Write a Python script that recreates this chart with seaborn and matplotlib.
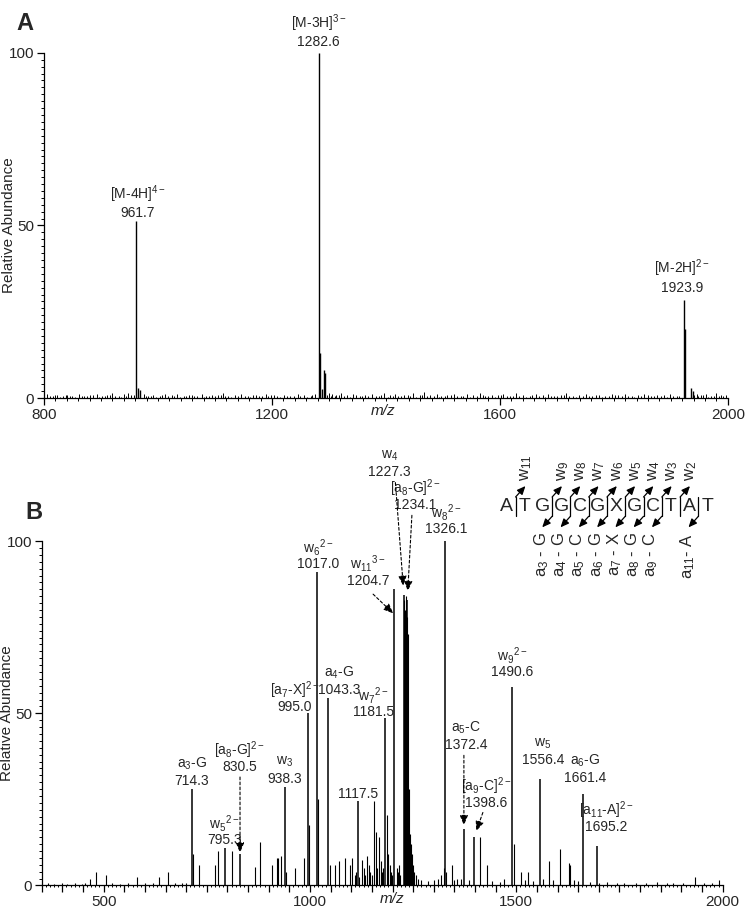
import matplotlib
matplotlib.use("Agg")
import matplotlib.pyplot as plt
from matplotlib.ticker import MultipleLocator, FixedLocator, FuncFormatter
import seaborn as sns

# ---------------- Panel A: full scan ----------------
a_peak_mz = [961.7, 965.0, 969.0, 1282.6, 1284.3, 1287.0, 1290.5, 1293.5, 1923.9, 1925.6, 1936.0, 1939.0]
a_peak_int = [51.4, 3.0, 2.4, 100.0, 13.0, 2.5, 8.2, 7.3, 28.5, 20.0, 3.0, 2.0]
# baseline noise (m/z, abundance)
a_noise = [(806, 1.2), (810, 0.5), (815, 0.6), (819, 0.8), (823, 0.9), (828, 0.4), (834, 0.5),
           (838, 0.9), (841, 1.0), (846, 0.6), (850, 0.7), (855, 0.3), (862, 1.3), (866, 0.7),
           (871, 0.6), (876, 0.5), (880, 0.8), (886, 0.9), (893, 1.1), (897, 0.4), (902, 0.5),
           (907, 0.6), (911, 0.9), (916, 0.8), (920, 1.4), (925, 0.5), (931, 0.7), (936, 0.3),
           (940, 1.1), (944, 0.7), (948, 1.6), (953, 0.8), (958, 0.9), (975, 1.2), (979, 0.5),
           (982, 0.7), (987, 0.6), (991, 0.9), (996, 0.4), (1004, 0.6), (1008, 0.8), (1012, 1.1),
           (1018, 0.5), (1025, 0.8), (1029, 0.7), (1033, 1.3), (1039, 0.3), (1046, 0.5), (1050, 0.6),
           (1055, 0.9), (1059, 0.9), (1063, 0.7), (1069, 0.5), (1077, 1.2), (1081, 0.4), (1085, 0.6),
           (1090, 0.7), (1094, 1.0), (1100, 0.6), (1106, 0.8), (1110, 0.8), (1114, 1.4), (1118, 0.5),
           (1123, 0.6), (1129, 0.3), (1135, 0.9), (1140, 0.7), (1146, 1.1), (1152, 0.6), (1158, 0.7),
           (1162, 0.4), (1166, 1.0), (1172, 0.9), (1177, 0.5), (1183, 0.5), (1189, 1.2), (1193, 0.6),
           (1198, 0.8), (1203, 0.8), (1209, 0.6), (1215, 0.4), (1221, 1.0), (1226, 0.7), (1232, 0.7),
           (1238, 0.5), (1245, 1.3), (1250, 0.6), (1256, 0.9), (1261, 0.3), (1268, 0.6), (1271, 0.8),
           (1275, 1.1), (1297, 1.0), (1300, 1.6), (1303, 0.7), (1306, 1.2), (1310, 0.5), (1313, 0.9),
           (1318, 0.9), (1322, 1.4), (1327, 0.6), (1331, 0.8), (1337, 0.4), (1342, 1.1), (1348, 0.8),
           (1354, 0.6), (1358, 0.5), (1363, 1.0), (1369, 0.7), (1376, 1.3), (1382, 0.6), (1388, 0.7),
           (1392, 0.9), (1397, 1.5), (1403, 0.4), (1408, 0.9), (1412, 0.7), (1416, 1.2), (1421, 0.5),
           (1427, 0.6), (1432, 0.8), (1438, 1.0), (1443, 0.6), (1447, 1.4), (1453, 0.3), (1459, 0.8),
           (1463, 0.9), (1466, 1.7), (1472, 0.5), (1478, 0.9), (1484, 0.7), (1489, 1.2), (1493, 0.4),
           (1497, 0.6), (1503, 0.6), (1508, 1.0), (1514, 0.8), (1519, 1.3), (1525, 0.5), (1531, 0.7),
           (1536, 0.7), (1542, 1.1), (1548, 0.3), (1553, 0.9), (1559, 0.6), (1565, 1.4), (1570, 0.9),
           (1574, 0.6), (1580, 0.5), (1586, 1.0), (1591, 0.4), (1597, 0.8), (1602, 0.8), (1606, 1.2),
           (1612, 0.6), (1618, 0.7), (1623, 0.7), (1629, 1.5), (1634, 0.5), (1640, 0.9), (1646, 0.3),
           (1652, 0.6), (1657, 0.8), (1663, 1.1), (1669, 0.6), (1675, 0.8), (1680, 0.4), (1684, 1.3),
           (1690, 0.7), (1695, 0.7), (1701, 0.5), (1707, 1.0), (1712, 0.9), (1716, 1.5), (1722, 0.6),
           (1728, 0.6), (1733, 0.4), (1739, 0.9), (1745, 0.7), (1751, 1.2), (1756, 0.5), (1762, 0.7),
           (1768, 0.8), (1774, 1.0), (1779, 0.3), (1785, 0.6), (1791, 0.6), (1797, 1.3), (1802, 0.9),
           (1808, 0.8), (1814, 0.5), (1819, 1.1), (1825, 0.7), (1831, 0.7), (1836, 0.4), (1842, 0.9),
           (1848, 0.6), (1853, 1.3), (1859, 0.8), (1865, 0.6), (1870, 0.5), (1876, 1.0), (1882, 0.7),
           (1888, 0.8), (1893, 0.3), (1899, 1.2), (1904, 0.6), (1910, 0.7), (1915, 0.5), (1941, 0.8),
           (1945, 1.3), (1948, 0.6), (1952, 0.8), (1957, 0.9), (1961, 1.1), (1966, 0.4), (1970, 0.7),
           (1975, 0.7), (1979, 1.4), (1984, 0.5), (1988, 0.9), (1992, 0.6), (1996, 1.0)]
a_label_names = ["[M-4H]$^{4-}$", "[M-3H]$^{3-}$", "[M-2H]$^{2-}$"]
a_label_nums = ["961.7", "1282.6", "1923.9"]
a_label_x = [965, 1282, 1920]
a_label_y = [53.6, 103.0, 31.9]

# ---------------- Panel B: MS/MS ----------------
b_peak_mz = [714.3, 795.3, 830.5, 938.3, 995.0, 1017.0, 1043.3, 1117.5, 1181.5, 1204.7,
             1227.3, 1234.1, 1326.1, 1372.4, 1398.6, 1490.6, 1556.4, 1661.4, 1695.2]
b_peak_int = [28.0, 11.0, 9.0, 28.5, 50.0, 91.0, 54.5, 24.5, 48.5, 86.0,
              84.5, 83.0, 100.0, 16.5, 14.0, 57.5, 31.0, 26.5, 11.5]
# unlabelled fragment and noise peaks (m/z, abundance)
b_minor = [(366, 0.6), (380, 0.5), (398, 0.7), (412, 0.5), (430, 0.6), (447, 0.5), (455, 0.8),
           (466, 2.0), (482, 4.0), (506, 3.0), (520, 0.6), (540, 0.5), (558, 0.7), (581, 2.5),
           (600, 0.6), (620, 0.8), (635, 2.5), (655, 4.0), (672, 0.7), (690, 0.8), (700, 0.6),
           (716, 9.0), (731, 6.0), (770, 6.0), (777, 10.0), (810, 10.0), (867, 5.5), (879, 12.5),
           (907, 6.0), (919, 8.0), (923, 8.0), (931, 8.5), (943, 4.0), (964, 5.0), (985, 8.0),
           (997, 17.5), (1019, 25.0), (1048, 6.0), (1060, 6.0), (1071, 7.0), (1085, 8.0),
           (1097, 6.0), (1103, 8.0), (1108, 3.0), (1112, 4.0), (1120, 2.5), (1125, 7.5),
           (1130, 5.0), (1133, 3.0), (1137, 8.5), (1142, 6.0), (1146, 4.0), (1150, 3.0),
           (1155, 24.5), (1160, 15.5), (1163, 5.0), (1168, 14.0), (1172, 7.0), (1175, 4.0),
           (1178, 5.0), (1187, 20.5), (1190, 9.0), (1193, 6.0), (1196, 4.0), (1199, 3.0),
           (1210, 5.0), (1213, 4.0), (1216, 6.0), (1219, 3.0), (1229, 83.0), (1230.5, 80.0),
           (1232, 84.0), (1236, 78.0), (1238, 73.0), (1240, 28.0), (1242, 15.0), (1244, 12.0),
           (1247, 9.0), (1250, 6.0), (1253, 4.0), (1257, 3.0), (1262, 2.0), (1270, 1.5),
           (1285, 1.2), (1300, 1.5), (1310, 2.0), (1318, 3.0), (1324, 5.0), (1330, 4.0),
           (1343, 6.0), (1350, 1.5), (1356, 2.0), (1365, 2.0), (1385, 1.5), (1412, 14.0),
           (1429, 6.0), (1440, 1.2), (1460, 1.0), (1470, 2.0), (1495, 12.0), (1512, 4.0),
           (1520, 1.5), (1528, 4.0), (1540, 1.2), (1565, 2.0), (1580, 7.0), (1590, 1.5),
           (1605, 10.5), (1627, 6.5), (1630, 6.0), (1640, 1.5), (1650, 1.2), (1679, 1.0),
           (1700, 0.8), (1720, 0.9), (1745, 0.7), (1760, 0.6), (1790, 0.8), (1815, 0.6),
           (1840, 0.9), (1865, 0.6), (1880, 0.8), (1905, 0.7), (1934, 2.5), (1955, 0.6),
           (1975, 0.8), (1992, 1.5)]

b_label_names = ["a$_3$-G", "w$_5$$^{2-}$", "[a$_8$-G]$^{2-}$", "w$_3$", "[a$_7$-X]$^{2-}$",
                 "w$_6$$^{2-}$", "a$_4$-G", "", "w$_7$$^{2-}$", "w$_{11}$$^{3-}$", "w$_4$",
                 "[a$_8$-G]$^{2-}$", "w$_8$$^{2-}$", "a$_5$-C", "[a$_9$-C]$^{2-}$", "w$_9$$^{2-}$",
                 "w$_5$", "a$_6$-G", "[a$_{11}$-A]$^{2-}$"]
b_label_nums = ["714.3", "795.3", "830.5", "938.3", "995.0", "1017.0", "1043.3", "1117.5",
                "1181.5", "1204.7", "1227.3", "1234.1", "1326.1", "1372.4", "1398.6", "1490.6",
                "1556.4", "1661.4", "1695.2"]
b_label_x = [714, 792, 830.5, 939.5, 964, 1020, 1071, 1117.5, 1153, 1141, 1192, 1256, 1330,
             1379, 1428, 1490.6, 1564, 1666, 1718]
b_label_y = [30.4, 13.2, 34.4, 31.0, 51.9, 93.3, 56.8, 26.5, 50.4, 88.5, 120.0, 110.4, 103.4,
             40.9, 24.0, 62.0, 36.3, 31.3, 17.0]

# dashed pointer arrows (start -> tip)
arrow_start = [(830.5, 31.5), (1153, 84.6), (1207, 117.0), (1247, 107.5), (1373, 37.8), (1419, 21.2)]
arrow_tip = [(830.5, 9.5), (1202, 79.0), (1226, 87.0), (1237, 85.5), (1373, 17.5), (1403, 15.8)]

# sequence diagram
seq_letters = list("ATGGCGXGCTAT")
w_cuts = [1, 3, 4, 5, 6, 7, 8, 9, 10]
w_names = ["w$_{11}$", "w$_9$", "w$_8$", "w$_7$", "w$_6$", "w$_5$", "w$_4$", "w$_3$", "w$_2$"]
a_cuts = [3, 4, 5, 6, 7, 8, 9, 11]
a_names = ["a$_3$ - G", "a$_4$ - G", "a$_5$ - C", "a$_6$ - G", "a$_7$ - X", "a$_8$ - G",
           "a$_9$ - C", "a$_{11}$- A"]
seq_x0, seq_dx, seq_y = 1476, 44.3, 110.0

sns.set_theme(style="ticks")
plt.rcParams["font.family"] = ["Liberation Sans", "DejaVu Sans"]
plt.rcParams["mathtext.fontset"] = "custom"
plt.rcParams["mathtext.rm"] = "Liberation Sans"
plt.rcParams["mathtext.it"] = "Liberation Sans:italic"
plt.rcParams["mathtext.bf"] = "Liberation Sans:bold"
plt.rcParams["axes.unicode_minus"] = False

fig = plt.figure(figsize=(7.45, 9.11), dpi=100)
ax_a = fig.add_axes([0.059, 0.563, 0.918, 0.379])
ax_b = fig.add_axes([0.056, 0.028, 0.914, 0.378])


def style_axis(ax):
    sns.despine(ax=ax)
    for sp in ["left", "bottom"]:
        ax.spines[sp].set_linewidth(0.9)
        ax.spines[sp].set_color("black")
    ax.tick_params(which="major", direction="out", length=5, width=0.9, labelsize=11,
                   color="black", pad=2)
    ax.tick_params(which="minor", direction="out", length=2.5, width=0.7, color="black")
    ax.set_ylim(0, 100)
    ax.yaxis.set_major_locator(FixedLocator([0, 50, 100]))
    ax.yaxis.set_minor_locator(MultipleLocator(2))
    ax.set_ylabel("Relative Abundance", fontsize=11)
    ax.yaxis.set_label_coords(-0.041, 0.5)
    ax.set_xlabel("m/z", fontsize=11, fontstyle="italic")
    ax.grid(False)


def stick_labels(ax, names, nums, xs, ys, gap):
    for name, num, x, y in zip(names, nums, xs, ys):
        ax.text(x, y, num, ha="center", va="center", fontsize=10, clip_on=False)
        if name:
            ax.text(x, y + gap, name, ha="center", va="center", fontsize=10, clip_on=False)


# Panel A
ax_a.vlines([m for m, _ in a_noise], 0, [h for _, h in a_noise], color="black", lw=0.7)
ax_a.vlines(a_peak_mz, 0, a_peak_int, color="black", lw=1.0)
ax_a.set_xlim(800, 2000)
style_axis(ax_a)
ax_a.xaxis.set_major_locator(MultipleLocator(400))
ax_a.xaxis.set_minor_locator(MultipleLocator(20))
ax_a.xaxis.set_label_coords(0.496, -0.018)
stick_labels(ax_a, a_label_names, a_label_nums, a_label_x, a_label_y, 5.6)

# Panel B
ax_b.vlines([m for m, _ in b_minor], 0, [h for _, h in b_minor], color="black", lw=0.8)
ax_b.vlines(b_peak_mz, 0, b_peak_int, color="black", lw=1.1)
ax_b.set_xlim(350, 2000)
style_axis(ax_b)
ax_b.xaxis.set_major_locator(MultipleLocator(50))
ax_b.xaxis.set_major_formatter(FuncFormatter(lambda v, p: f"{int(v)}" if v % 500 == 0 else ""))
ax_b.xaxis.set_minor_locator(MultipleLocator(10))
ax_b.tick_params(axis="x", which="minor", length=1.5)
ax_b.xaxis.set_label_coords(0.515, -0.018)
stick_labels(ax_b, b_label_names, b_label_nums, b_label_x, b_label_y, 4.9)

for start, tip in zip(arrow_start, arrow_tip):
    ax_b.annotate("", xy=tip, xytext=start, annotation_clip=False,
                  arrowprops=dict(arrowstyle="-|>,head_length=0.6,head_width=0.25",
                                  linestyle=(0, (2.5, 2)), lw=0.8, color="black",
                                  shrinkA=0, shrinkB=0, mutation_scale=10))

# sequence with fragmentation brackets
for i, letter in enumerate(seq_letters):
    ax_b.text(seq_x0 + i * seq_dx, seq_y, letter, ha="center", va="center", fontsize=14,
              clip_on=False)
solid_arrow = dict(arrowstyle="-|>,head_length=0.5,head_width=0.22", lw=0.9, color="black",
                   shrinkA=0, shrinkB=0, mutation_scale=10)
cut_set = sorted(set(w_cuts) | set(a_cuts))
for c in cut_set:
    cx = seq_x0 + (c - 0.5) * seq_dx
    ax_b.plot([cx, cx], [seq_y - 2.8, seq_y + 2.8], color="black", lw=0.9, clip_on=False)
for c, name in zip(w_cuts, w_names):
    cx = seq_x0 + (c - 0.5) * seq_dx
    ax_b.annotate("", xy=(cx + 24, seq_y + 6.0), xytext=(cx, seq_y + 2.8),
                  annotation_clip=False, arrowprops=solid_arrow)
    ax_b.text(cx + 26, seq_y + 7.5, name, rotation=90, ha="center", va="bottom",
              fontsize=12, clip_on=False)
for c, name in zip(a_cuts, a_names):
    cx = seq_x0 + (c - 0.5) * seq_dx
    ax_b.annotate("", xy=(cx - 24, seq_y - 6.0), xytext=(cx, seq_y - 2.8),
                  annotation_clip=False, arrowprops=solid_arrow)
    ax_b.text(cx - 26, seq_y - 7.5, name, rotation=90, ha="center", va="top",
              fontsize=12, clip_on=False)

fig.text(0.033, 0.987, "A", fontsize=17, fontweight="bold", va="top", ha="center")
fig.text(0.045, 0.450, "B", fontsize=17, fontweight="bold", va="top", ha="center")

fig.savefig("out.png", dpi=100)
